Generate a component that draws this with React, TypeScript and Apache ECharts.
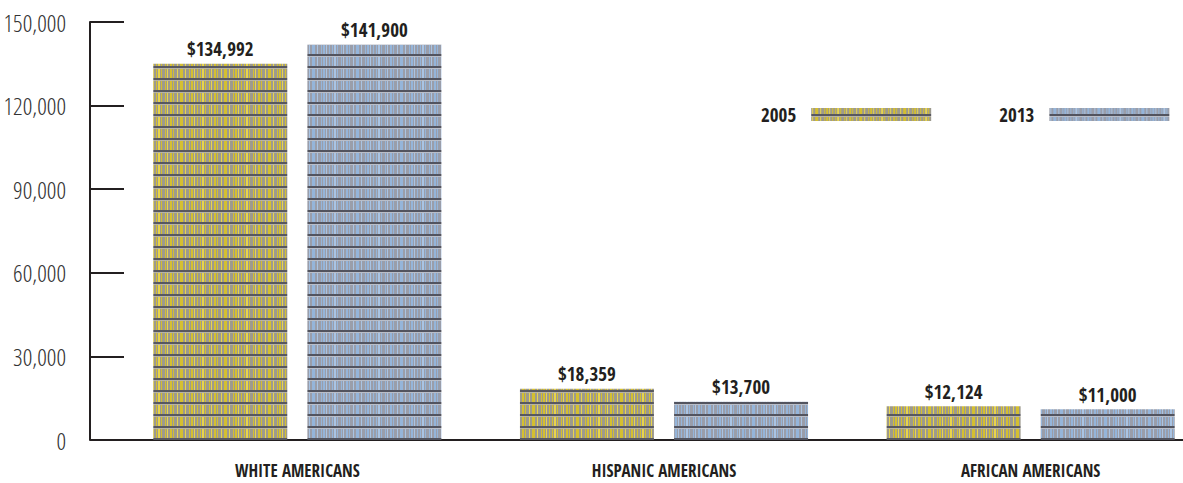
import React, { useEffect, useRef } from "react";
import * as echarts from "echarts";

const categories = ["WHITE AMERICANS", "HISPANIC AMERICANS", "AFRICAN AMERICANS"];
const seriesNames = ["2005", "2013"];
const values2005 = [134992, 18359, 12124];
const values2013 = [141900, 13700, 11000];
const yTicks = { min: 0, max: 150000, interval: 30000 };

const FONT = "'Open Sans Condensed', 'Roboto Condensed', 'DejaVu Sans Condensed', sans-serif";
const FONT_LIGHT = "'Open Sans Condensed Light', 'Roboto Condensed', 'DejaVu Sans Condensed', sans-serif";
const INK = "#231f20";

function makeTile(base: string, stripe: string, stripe2: string, dark: string, light: string) {
  const w = 44;
  const h = 12;
  const c = document.createElement("canvas");
  c.width = w;
  c.height = h;
  const ctx = c.getContext("2d")!;
  ctx.fillStyle = base;
  ctx.fillRect(0, 0, w, h);
  const stripes = [1, 4, 6, 9, 13, 15, 18, 21, 24, 26, 29, 33, 35, 38, 41];
  stripes.forEach((x, i) => {
    ctx.fillStyle = i % 3 === 0 ? stripe2 : stripe;
    ctx.fillRect(x, 0, i % 4 === 1 ? 2 : 1, h);
  });
  ctx.fillStyle = dark;
  ctx.fillRect(0, 6, w, 2);
  ctx.fillStyle = light;
  ctx.fillRect(0, 8, w, 1);
  return c;
}

export default function App() {
  const ref = useRef<HTMLDivElement>(null);
  useEffect(() => {
    if (!ref.current) return;
    const chart = echarts.init(ref.current, null, { renderer: "svg" });
    const tileA = makeTile("#9d9a8e", "#d4bf30", "#e8d44c", "#58585f", "#b8b4a4");
    const tileB = makeTile("#9a9eaa", "#95b5da", "#a9c4e4", "#52545f", "#babec8");
    const patA = { image: tileA, repeat: "repeat" as const, imageWidth: 44, imageHeight: 12 };
    const patB = { image: tileB, repeat: "repeat" as const, imageWidth: 44, imageHeight: 12 };
    const gridLeft = 114;
    const gridBottom = 43;
    const labelStyle = {
      show: true,
      position: "top" as const,
      distance: 5,
      fontFamily: FONT,
      fontWeight: "bold" as const,
      fontSize: 19,
      color: INK,
      formatter: (p: any) => "$" + Number(p.value).toLocaleString("en-US"),
    };
    chart.setOption({
      animation: false,
      backgroundColor: "#ffffff",
      grid: {
        left: gridLeft,
        width: 1100,
        top: 22,
        bottom: gridBottom,
        containLabel: false,
        outerBoundsMode: "none",
      },
      legend: {
        left: 756,
        top: 100,
        width: 600,
        align: "right",
        itemWidth: 120,
        itemHeight: 13,
        itemGap: 68,
        icon: "rect",
        textStyle: { fontFamily: FONT, fontWeight: "bold", fontSize: 19, color: INK, padding: [0, 10, 0, 0] },
        data: seriesNames,
      },
      xAxis: {
        type: "category",
        data: categories,
        axisLine: { lineStyle: { color: INK, width: 2 } },
        axisTick: { show: false },
        axisLabel: { fontFamily: FONT, fontWeight: "bold", fontSize: 17, color: INK, margin: 22 },
      },
      yAxis: {
        type: "value",
        min: yTicks.min,
        max: yTicks.max,
        interval: yTicks.interval,
        offset: 24,
        axisLine: { show: true, lineStyle: { color: INK, width: 2 } },
        axisTick: { show: true, inside: true, length: 34, lineStyle: { color: INK, width: 2 } },
        splitLine: { show: false },
        axisLabel: {
          fontFamily: FONT_LIGHT,
          fontWeight: "normal",
          fontSize: 24,
          color: "#333333",
          margin: 24,
          formatter: (v: number) => v.toLocaleString("en-US"),
        },
      },
      graphic: [
        {
          type: "line",
          shape: { x1: 90, y1: 483 - gridBottom, x2: gridLeft, y2: 483 - gridBottom },
          style: { stroke: INK, lineWidth: 2 },
        },
      ],
      series: [
        {
          name: seriesNames[0],
          type: "bar",
          data: values2005,
          barWidth: 134,
          barGap: "15%",
          itemStyle: { color: patA },
          label: labelStyle,
        },
        {
          name: seriesNames[1],
          type: "bar",
          data: values2013,
          barWidth: 134,
          barGap: "15%",
          itemStyle: { color: patB },
          label: labelStyle,
        },
      ],
    });
    return () => chart.dispose();
  }, []);
  return (
    <div
      ref={ref}
      style={{ position: "absolute", left: 0, top: 0, width: 1183, height: 483, background: "#fff" }}
    />
  );
}
